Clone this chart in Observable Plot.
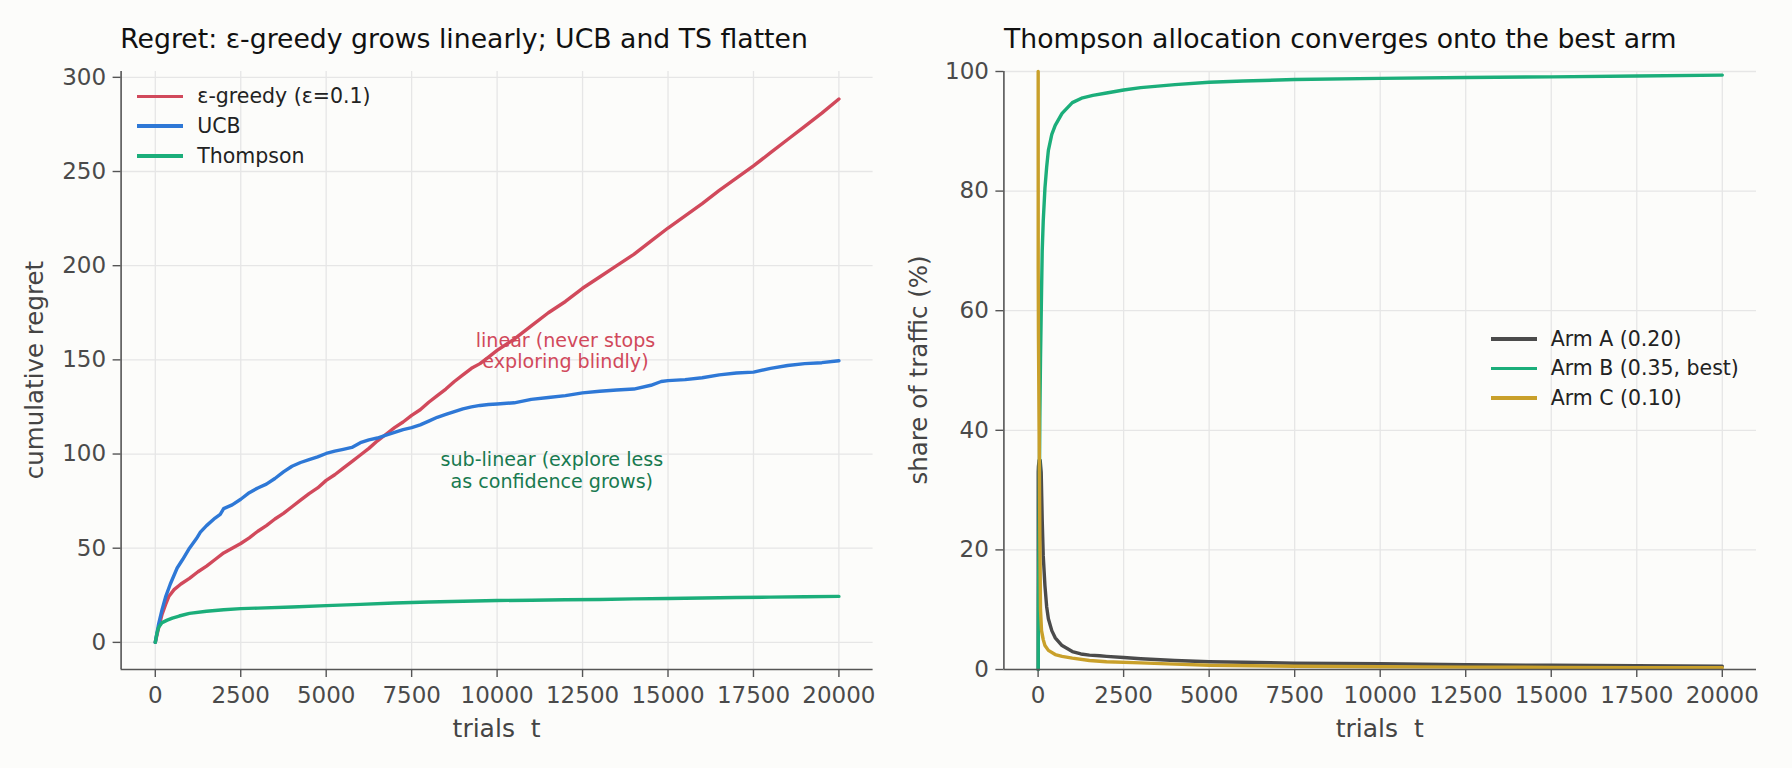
<!DOCTYPE html>
<html>
<head>
<meta charset="utf-8">
<script src="https://cdn.jsdelivr.net/npm/d3@7"></script>
<script src="https://cdn.jsdelivr.net/npm/@observablehq/plot@0.6"></script>
<style>
  html, body { margin: 0; padding: 0; background: #fcfcfa; }
  #root { position: relative; width: 1792px; height: 768px; overflow: hidden; font-family: "DejaVu Sans", sans-serif; }
  .abs { position: absolute; white-space: pre; line-height: 1; }
  .title { font-size: 26.7px; color: #111; }
  .xlab { font-size: 25px; color: #444; transform: translateX(-50%); }
  .ylab { font-size: 24.5px; color: #444; transform: translate(-50%, -50%) rotate(-90deg); }
  .leg { position: absolute; display: flex; flex-direction: column; gap: 0; }
  .leg .row { display: flex; align-items: center; height: 29.6px; }
  .leg .sw { width: 46px; height: 3.6px; margin-right: 14px; }
  .leg .tx { font-size: 20.5px; color: #222; line-height: 1; white-space: pre; }
</style>
</head>
<body>
<div id="root"></div>
<script>
// ---------------- data ----------------
const xTicks = [0, 2500, 5000, 7500, 10000, 12500, 15000, 17500, 20000];
const regretTicks = [0, 50, 100, 150, 200, 250, 300];
const shareTicks = [0, 20, 40, 60, 80, 100];

const regretSeries = ["ε-greedy (ε=0.1)", "UCB", "Thompson"];
const regretColors = ["#d1495b", "#2e78d6", "#1bae7a"];

// cumulative regret, [trial, regret]
const epsGreedy = [[0,0],[100,8],[200,15],[300,20],[400,24.5],[550,28],[750,31],[1000,34],[1250,37.5],[1500,40.5],[1750,44],[2000,47.5],[2250,50],[2500,52.5],[2750,55.5],[3000,59],[3250,62],[3500,65.5],[3750,68.5],[4000,72],[4250,75.5],[4500,79],[4750,82],[5000,86],[5250,89],[5500,92.5],[5750,96],[6000,99.5],[6250,103],[6500,107],[6750,110.5],[7000,114],[7250,117],[7500,120.5],[7750,123.5],[8000,127.5],[8250,131],[8500,134.5],[8750,138.5],[9000,142],[9250,145.5],[9500,148],[9750,151.5],[10000,155],[10500,161],[11000,168],[11500,175],[12000,181],[12500,188],[13000,194],[13500,200],[14000,206],[14500,213],[15000,220],[15500,226.5],[16000,233],[16500,240],[17000,246.5],[17500,253],[18000,260],[18500,267],[19000,274],[19500,281],[20000,288.5]];
const ucb = [[0,0],[100,10],[200,17.5],[300,24],[440,31],[640,39.5],[800,44],[1000,50],[1200,55],[1320,58.5],[1500,62],[1750,66],[1900,68],[2000,71],[2250,73],[2500,76],[2750,79.5],[3000,82],[3250,84],[3500,87],[3750,90.5],[4000,93.5],[4250,95.5],[4500,97],[4750,98.5],[5000,100.3],[5250,101.5],[5500,102.5],[5750,103.5],[6000,106],[6250,107.5],[6500,108.5],[6750,110],[7000,111.5],[7250,113],[7500,114],[7750,115.5],[8000,117.5],[8250,119.5],[8500,121],[8750,122.5],[9000,124],[9250,125],[9500,125.8],[9750,126.3],[10000,126.6],[10500,127.2],[11000,129],[11500,130],[12000,131],[12500,132.5],[13000,133.3],[13500,134],[14000,134.5],[14500,136.5],[14800,138.5],[15000,139],[15500,139.5],[16000,140.5],[16500,142],[17000,143],[17500,143.5],[18000,145.5],[18500,147],[19000,148],[19500,148.5],[20000,149.5]];
const thompsonRegret = [[0,0],[50,5],[100,8],[200,10.5],[350,11.8],[500,12.9],[700,14],[1000,15.4],[1500,16.5],[2000,17.3],[2500,17.9],[3000,18.2],[4000,18.8],[5000,19.5],[6000,20.2],[7000,20.9],[8000,21.4],[9000,21.8],[10000,22.2],[11000,22.4],[12000,22.6],[13000,22.8],[14000,23.1],[15000,23.3],[16000,23.6],[17000,23.8],[18000,24],[19000,24.2],[20000,24.4]];

const armSeries = ["Arm A (0.20)", "Arm B (0.35, best)", "Arm C (0.10)"];
const armColors = ["#4b4b4b", "#1bae7a", "#c9a02a"];

// Thompson share of traffic (%), [trial, share]
const armA = [[1,0],[2,0],[3,33],[10,34],[30,35],[60,35],[90,33],[120,25],[150,19],[200,14],[250,10.5],[300,8.5],[400,6.5],[500,5.3],[700,4],[850,3.5],[1000,3],[1250,2.6],[1500,2.4],[1800,2.3],[2000,2.2],[2500,2.0],[3000,1.8],[4000,1.5],[5000,1.3],[6000,1.2],[7500,1.05],[10000,0.95],[12500,0.8],[15000,0.7],[17500,0.62],[20000,0.56]];
const armB = [[1,0],[3,0],[10,10],[30,25],[50,42],[70,52],[100,63],[120,70],[150,75],[200,80.5],[250,84],[300,86.8],[400,89.5],[500,91],[700,93],[1000,94.8],[1300,95.6],[1600,96],[2000,96.4],[2500,96.9],[3000,97.3],[4000,97.8],[5000,98.2],[6000,98.4],[7500,98.65],[10000,98.85],[12500,99],[15000,99.1],[17500,99.25],[20000,99.4]];
const armC = [[1,100],[2,100],[3,67],[10,56],[30,40],[50,23],[70,10],[100,6.5],[150,5],[200,4],[300,3.2],[500,2.5],[700,2.2],[1000,1.9],[1500,1.5],[2000,1.3],[3000,1.1],[4000,0.9],[5000,0.7],[7500,0.55],[10000,0.45],[12500,0.4],[15000,0.35],[17500,0.32],[20000,0.3]];

const annotations = [
  {t: 12000, v: 155, text: "linear (never stops\nexploring blindly)", color: "#d1495b"},
  {t: 11600, v: 91.5, text: "sub-linear (explore less\nas confidence grows)", color: "#187a50"}
];

// ---------------- build ----------------
const toRows = (arr, name) => arr.map(([t, v]) => ({t, v, name}));
const regretRows = [epsGreedy, ucb, thompsonRegret].map((s, i) => toRows(s, regretSeries[i]));
const armRows = [armA, armB, armC].map((s, i) => toRows(s, armSeries[i]));

const root = document.getElementById("root");
const spine = "#555555";
const tickText = "#4a4a4a";
const grid = "#e6e6e6";
const xDomain = [-1000, 21000];

function panel({yDomain, yTicks, rows, colors, mLeft, mRight, extra}) {
  return Plot.plot({
    width: 896, height: 768,
    marginLeft: mLeft, marginRight: mRight, marginTop: 71, marginBottom: 99,
    style: {background: "transparent", fontFamily: "DejaVu Sans, sans-serif", fontSize: "23px", overflow: "visible"},
    x: {domain: xDomain},
    y: {domain: yDomain},
    marks: [
      Plot.gridX({ticks: xTicks, stroke: grid, strokeOpacity: 1, strokeWidth: 1.3}),
      Plot.gridY({ticks: yTicks, stroke: grid, strokeOpacity: 1, strokeWidth: 1.3}),
      ...rows.map((r, i) => Plot.line(r, {x: "t", y: "v", stroke: colors[i], strokeWidth: 3.4, strokeLinejoin: "round"})),
      ...(extra || []),
      Plot.ruleX([xDomain[0]], {stroke: spine, strokeWidth: 1.6}),
      Plot.ruleY([yDomain[0]], {stroke: spine, strokeWidth: 1.6}),
      Plot.axisX({ticks: xTicks, tickFormat: d => String(d), tickSize: 8, tickPadding: 9, label: null,
        fontSize: 23, stroke: spine, strokeWidth: 1.4, fill: tickText}),
      Plot.axisY({ticks: yTicks, tickFormat: d => String(d), tickSize: 8, tickPadding: 7, label: null,
        fontSize: 23, stroke: spine, strokeWidth: 1.4, fill: tickText})
    ]
  });
}

const left = panel({
  yDomain: [-14.4, 303.1], yTicks: regretTicks, rows: regretRows, colors: regretColors,
  mLeft: 120.6, mRight: 23.4,
  extra: annotations.map(a => Plot.text([a], {x: "t", y: "v", text: "text", fill: a.color,
    fontSize: 19.1, textAnchor: "middle", lineAnchor: "middle", lineHeight: 1.13}))
});
const right = panel({
  yDomain: [0, 100], yTicks: shareTicks, rows: armRows, colors: armColors,
  mLeft: 107.4, mRight: 36
});

function place(el, x, y) {
  const d = document.createElement("div");
  d.style.position = "absolute"; d.style.left = x + "px"; d.style.top = y + "px";
  d.appendChild(el); root.appendChild(d);
}
place(left, 0, 0);
place(right, 896, 0);

function label(text, cls, x, y) {
  const d = document.createElement("div");
  d.className = "abs " + cls;
  d.textContent = text;
  d.style.left = x + "px"; d.style.top = y + "px";
  root.appendChild(d);
}
label("Regret: ε-greedy grows linearly; UCB and TS flatten", "title", 120.2, 25.7);
label("Thompson allocation converges onto the best arm", "title", 1004, 25.7);
label("trials  t", "xlab", 496.6, 715.5);
label("trials  t", "xlab", 1379.7, 715.5);
label("cumulative regret", "ylab", 34.8, 370);
label("share of traffic (%)", "ylab", 919.2, 370);

function legend(names, colors, x, yFirstCenter) {
  const d = document.createElement("div");
  d.className = "leg";
  d.style.left = x + "px"; d.style.top = (yFirstCenter - 14.8) + "px";
  names.forEach((n, i) => {
    const r = document.createElement("div"); r.className = "row";
    const s = document.createElement("div"); s.className = "sw"; s.style.background = colors[i];
    const t = document.createElement("div"); t.className = "tx"; t.textContent = n;
    r.appendChild(s); r.appendChild(t); d.appendChild(r);
  });
  root.appendChild(d);
}
legend(regretSeries, regretColors, 137.3, 96.7);
legend(armSeries, armColors, 1490.7, 339);
</script>
</body>
</html>
